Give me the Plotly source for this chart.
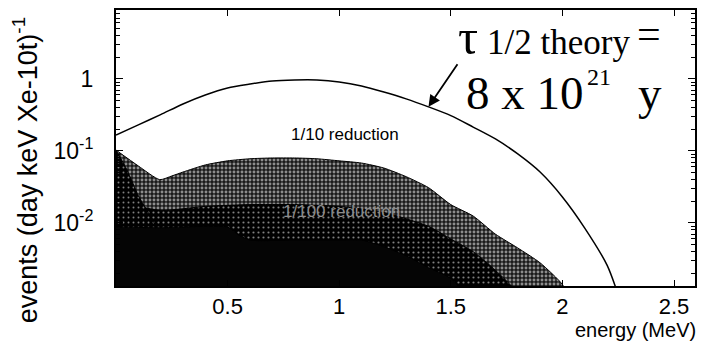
import math
import plotly.graph_objects as go

# Theoretical two-neutrino double-beta spectrum (events per day keV Xe-10t)
E_THEORY = [0.0, 0.1, 0.2, 0.3, 0.4, 0.5, 0.6, 0.7, 0.8, 0.9, 1.0, 1.1, 1.2,
            1.3, 1.4, 1.5, 1.6, 1.7, 1.8, 1.9, 2.0, 2.1, 2.2, 2.25]
RATE_THEORY = [0.167, 0.23, 0.32, 0.45, 0.60, 0.75, 0.85, 0.94, 0.97, 0.97, 0.91,
               0.80, 0.66, 0.53, 0.41, 0.31, 0.215, 0.147, 0.091, 0.051, 0.023,
               0.0085, 0.0026, 0.0010]

# Background after 1/10 reduction
E_TENTH = [0.0, 0.1, 0.196, 0.25, 0.3, 0.4, 0.5, 0.6, 0.7, 0.8, 0.9, 1.0, 1.1,
           1.2, 1.3, 1.4, 1.5, 1.6, 1.7, 1.8, 1.9, 2.0, 2.02]
RATE_TENTH = [0.103, 0.062, 0.040, 0.045, 0.051, 0.064, 0.073, 0.078, 0.080,
              0.080, 0.078, 0.073, 0.068, 0.058, 0.044, 0.031, 0.018, 0.0125,
              0.0070, 0.0045, 0.0028, 0.0014, 0.0010]

# Inner (denser) part of the background
E_MID = [0.0, 0.2, 0.4, 0.6, 0.8, 1.0, 1.2, 1.4, 1.5, 1.6, 1.7, 1.8]
RATE_MID = [0.020, 0.015, 0.017, 0.018, 0.018, 0.017, 0.014, 0.0090, 0.0060,
            0.0040, 0.0022, 0.0010]

# Low-energy component
E_LOW = [0.0, 0.05, 0.1, 0.15, 0.2, 0.22]
RATE_LOW = [0.103, 0.054, 0.024, 0.013, 0.0068, 0.004]

# Background after 1/100 reduction
E_HUNDREDTH = [0.0, 0.2, 0.3, 0.4, 0.5, 0.55, 0.6, 0.8, 1.0, 1.1, 1.2, 1.3, 1.4,
               1.5, 1.56]
RATE_HUNDREDTH = [0.0088, 0.0086, 0.0088, 0.0090, 0.0088, 0.0068, 0.0058, 0.0058,
                  0.0058, 0.0058, 0.0047, 0.0035, 0.0024, 0.0017, 0.0010]

X_TICKS = [0.5, 1, 1.5, 2, 2.5]
Y_TICKS = [1, 0.1, 0.01]
Y_TICK_TEXT = ["1", "10<sup>-1</sup>", "10<sup>-2</sup>"]

# point on the theory curve marked by the arrow
ARROW_E, ARROW_RATE = 1.40, 0.41

FLOOR = 1e-4  # closing level for filled regions (below the visible range)

SANS = "Liberation Sans, Arial, sans-serif"
SERIF = "Liberation Serif, Times New Roman, serif"

W, H = 701, 346
ML, MR, MT, MB = 116, 4, 10, 60
PW, PH = W - ML - MR, H - MT - MB


def px(xp):
    return (xp - ML) / PW


def py(yp):
    return (MT + PH - yp) / PH


def area(xs, ys):
    return list(xs) + list(xs)[::-1], list(ys) + [FLOOR] * len(xs)


fig = go.Figure()


def band(xs, ys, pattern=None, color="black"):
    bx, by = area(xs, ys)
    fig.add_trace(go.Scatter(
        x=bx, y=by, mode="lines", fill="toself",
        line=dict(color="black", width=1, shape="spline", smoothing=0.6),
        fillcolor=color, fillpattern=pattern, hoverinfo="skip", showlegend=False,
    ))


band(E_TENTH, RATE_TENTH,
     pattern=dict(shape=".", bgcolor="#1a1a1a", fgcolor="#ffffff", size=4, solidity=0.42),
     color="#777777")
band(E_MID, RATE_MID,
     pattern=dict(shape=".", bgcolor="#000000", fgcolor="#ffffff", size=5, solidity=0.15),
     color="#333333")
band(E_LOW, RATE_LOW,
     pattern=dict(shape=".", bgcolor="#000000", fgcolor="#ffffff", size=5, solidity=0.12),
     color="#222222")
band(E_HUNDREDTH, RATE_HUNDREDTH, color="#050505")

fig.add_trace(go.Scatter(
    x=E_THEORY, y=RATE_THEORY, mode="lines",
    line=dict(color="black", width=1.5, shape="spline", smoothing=0.8),
    hoverinfo="skip", showlegend=False,
))

minor_vals = [k * 10.0 ** e for e in range(-4, 2) for k in range(2, 10)]

fig.update_layout(
    width=W, height=H,
    margin=dict(l=ML, r=MR, t=MT, b=MB),
    paper_bgcolor="white", plot_bgcolor="white",
    font=dict(family=SANS, color="black"),
    xaxis=dict(
        range=[0.0, 2.594], tickmode="array", tickvals=X_TICKS,
        ticktext=[str(v) for v in X_TICKS],
        ticks="inside", ticklen=6, tickwidth=1, tickcolor="black",
        showline=True, linecolor="black", linewidth=2, mirror="allticks",
        showgrid=False, zeroline=False, tickfont=dict(size=22, family=SANS),
    ),
    yaxis=dict(
        type="log", range=[-2.875, 0.958], tickmode="array", tickvals=Y_TICKS,
        ticktext=Y_TICK_TEXT,
        ticks="inside", ticklen=7, tickwidth=1, tickcolor="black",
        minor=dict(tickmode="array", tickvals=minor_vals, ticks="inside",
                   ticklen=4, tickcolor="black", showgrid=False),
        showline=True, linecolor="black", linewidth=2, mirror="allticks",
        showgrid=False, zeroline=False, tickfont=dict(size=23, family=SANS),
        ticklabelstandoff=16,
    ),
)


def label(xp, yp, text, size, family=SANS, color="black", **kw):
    return dict(x=px(xp), y=py(yp), xref="paper", yref="paper", text=text,
                font=dict(size=size, family=family, color=color), showarrow=False,
                xanchor=kw.pop("xanchor", "center"), yanchor="middle", **kw)


annotations = [
    # axis titles
    label(25, 170, "events (day keV Xe-10t)<sup>-1</sup>", 27, textangle=-90),
    label(700, 330, "energy (MeV)", 20, xanchor="right"),
    # band labels
    label(346, 134, "1/10 reduction", 17),
    label(342, 212, "1/100 reduction", 17, color="#8c8c8c"),
    # half-life statement
    label(469, 37, "τ", 50, family=SERIF),
    label(560, 43, "1/2 theory", 35, family=SERIF),
    label(651, 34, "=", 42, family=SERIF),
    label(526, 93, "8 x 10", 47, family=SERIF),
    label(601, 77, "21", 24, family=SERIF),
    label(652, 93, "y", 47, family=SERIF),
    # arrow pointing at the theory curve
    dict(x=ARROW_E, y=math.log10(ARROW_RATE), xref="x", yref="y", text="",
         showarrow=True, arrowhead=2, arrowsize=1.3, arrowwidth=1.8,
         arrowcolor="black", ax=30, ay=-44),
]

fig.update_layout(annotations=annotations)

fig.write_html("out.html")
